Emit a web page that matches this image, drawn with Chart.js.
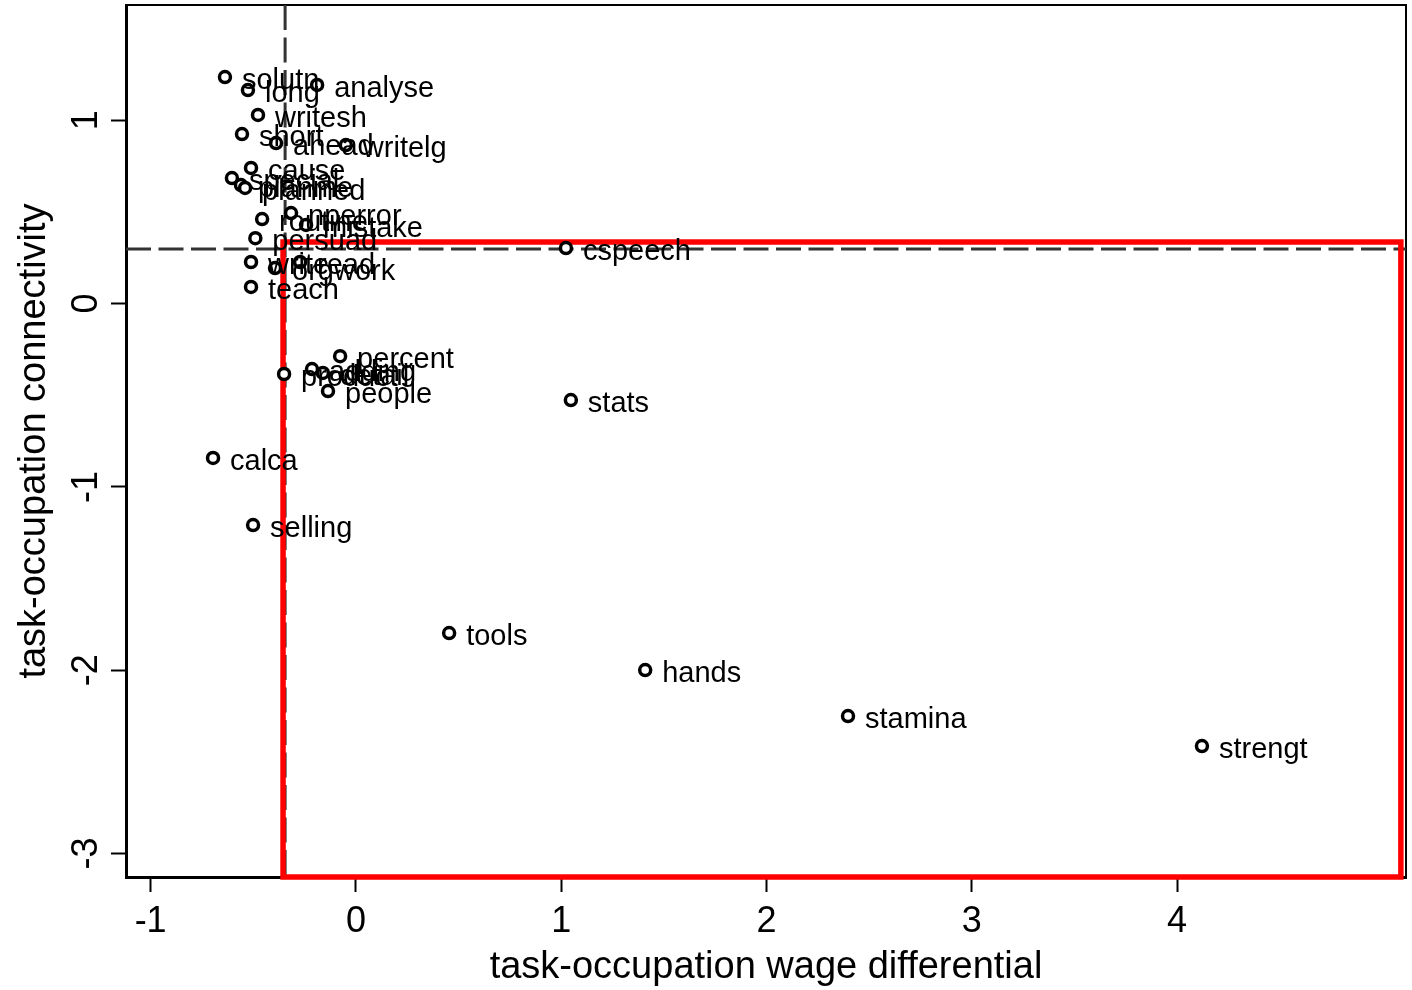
<!DOCTYPE html>
<html>
<head>
<meta charset="utf-8">
<script src="https://cdn.jsdelivr.net/npm/chart.js@4.4.1/dist/chart.umd.min.js"></script>
<style>
  html, body { margin: 0; padding: 0; background: #fff; }
  canvas { display: block; }
</style>
</head>
<body>
<canvas id="chart" width="1412" height="990"></canvas>
<script>
// Task names with their wage differential (x) and connectivity (y)
const tasks = [
  'solutn', 'long', 'analyse', 'writesh', 'short', 'ahead', 'writelg',
  'cause', 'special', 'planme', 'planned', 'nperror', 'routine', 'mistake',
  'persuad', 'write', 'orgwork', 'read', 'teach', 'cspeech',
  'percent', 'product', 'adding', 'detail', 'people', 'stats',
  'calca', 'selling', 'tools', 'hands', 'stamina', 'strengt'
];
const wageDiff = [
  -0.638, -0.526, -0.189, -0.477, -0.555, -0.389, -0.049,
  -0.511, -0.604, -0.560, -0.540, -0.316, -0.457, -0.243,
  -0.490, -0.511, -0.394, -0.272, -0.511, 1.023,
  -0.077, -0.350, -0.214, -0.161, -0.136, 1.047,
  -0.696, -0.501, 0.454, 1.409, 2.397, 4.121
];
const connectivity = [
  1.236, 1.165, 1.193, 1.029, 0.925, 0.876, 0.865,
  0.740, 0.685, 0.647, 0.631, 0.494, 0.461, 0.429,
  0.357, 0.227, 0.194, 0.227, 0.091, 0.303,
  -0.287, -0.384, -0.357, -0.378, -0.477, -0.526,
  -0.842, -1.208, -1.797, -1.999, -2.250, -2.414
];

// Axis ticks and ranges
const xTicks = [-1, 0, 1, 2, 3, 4];
const yTicks = [-3, -2, -1, 0, 1];
const xRange = [-1.12, 5.115];
const yRange = [-3.128, 1.629];

// Reference cut-offs (dashed) and highlighted quadrant (red box)
const cutX = -0.345;
const cutY = 0.298;
const boxX = [-0.355, 5.09];
const boxY = [-3.128, 0.336];

const FONT = '"Liberation Sans", Arial, Helvetica, sans-serif';

const points = tasks.map((t, i) => ({ x: wageDiff[i], y: connectivity[i] }));

const overlay = {
  id: 'overlay',
  beforeDatasetsDraw(chart) {
    const { ctx, chartArea: a, scales: { x, y } } = chart;
    ctx.save();
    // top and right frame
    ctx.strokeStyle = '#000';
    ctx.lineWidth = 2;
    ctx.beginPath();
    ctx.moveTo(a.left, a.top);
    ctx.lineTo(a.right, a.top);
    ctx.lineTo(a.right, a.bottom);
    ctx.stroke();
    // dashed cut-off lines
    ctx.strokeStyle = '#333333';
    ctx.lineWidth = 3;
    ctx.setLineDash([25, 7.5]);
    const px = x.getPixelForValue(cutX);
    const py = y.getPixelForValue(cutY);
    ctx.beginPath();
    ctx.moveTo(px, a.top);
    ctx.lineTo(px, a.bottom);
    ctx.stroke();
    ctx.beginPath();
    ctx.moveTo(a.left, py);
    ctx.lineTo(a.right, py);
    ctx.stroke();
    ctx.setLineDash([]);
    // red box
    ctx.strokeStyle = '#ff0000';
    ctx.lineWidth = 5.5;
    const l = x.getPixelForValue(boxX[0]);
    const r = x.getPixelForValue(boxX[1]);
    const t = y.getPixelForValue(boxY[1]);
    const b = y.getPixelForValue(boxY[0]);
    ctx.strokeRect(l, t, r - l, b - t);
    ctx.restore();
  },
  afterDatasetsDraw(chart) {
    const { ctx, scales: { x, y } } = chart;
    ctx.save();
    ctx.fillStyle = '#000';
    ctx.font = '29px ' + FONT;
    ctx.textAlign = 'left';
    ctx.textBaseline = 'alphabetic';
    tasks.forEach((t, i) => {
      const px = x.getPixelForValue(wageDiff[i]);
      const py = y.getPixelForValue(connectivity[i]);
      ctx.fillText(t, px + 17, py + 12);
    });
    ctx.restore();
  },
  afterDraw(chart) {
    const { ctx, scales: { y } } = chart;
    ctx.save();
    ctx.fillStyle = '#000';
    ctx.font = '36px ' + FONT;
    ctx.textAlign = 'center';
    ctx.textBaseline = 'alphabetic';
    yTicks.forEach(v => {
      const py = y.getPixelForValue(v);
      ctx.save();
      ctx.translate(97, py);
      ctx.rotate(-Math.PI / 2);
      ctx.fillText(String(v), 0, 0);
      ctx.restore();
    });
    ctx.restore();
  }
};

new Chart(document.getElementById('chart'), {
  type: 'scatter',
  data: {
    datasets: [{
      data: points,
      pointRadius: 5.5,
      pointHoverRadius: 5.5,
      pointBorderWidth: 3.5,
      pointBorderColor: '#000',
      pointBackgroundColor: '#fff',
      showLine: false
    }]
  },
  options: {
    responsive: false,
    animation: false,
    devicePixelRatio: 1,
    layout: { autoPadding: false, padding: { top: 5, right: 6, left: 0, bottom: 0 } },
    plugins: { legend: { display: false }, tooltip: { enabled: false } },
    events: [],
    scales: {
      x: {
        type: 'linear',
        min: xRange[0],
        max: xRange[1],
        afterFit(scale) { scale.height = 113; },
        afterBuildTicks(scale) { scale.ticks = xTicks.map(v => ({ value: v })); },
        ticks: {
          color: '#000',
          font: { family: FONT, size: 36 },
          padding: 8,
          maxRotation: 0,
          autoSkip: false,
          callback: v => String(v)
        },
        grid: {
          drawOnChartArea: false,
          drawTicks: true,
          tickLength: 15,
          tickWidth: 2,
          tickColor: '#000'
        },
        border: { display: true, color: '#000', width: 3 },
        title: {
          display: true,
          text: 'task-occupation wage differential',
          color: '#000',
          font: { family: FONT, size: 38 },
          padding: { top: 0, bottom: 0 }
        }
      },
      y: {
        type: 'linear',
        min: yRange[0],
        max: yRange[1],
        afterFit(scale) { scale.width = 126; },
        afterBuildTicks(scale) { scale.ticks = yTicks.map(v => ({ value: v })); },
        ticks: {
          color: 'rgba(0,0,0,0)',
          font: { family: FONT, size: 2 },
          autoSkip: false
        },
        grid: {
          drawOnChartArea: false,
          drawTicks: true,
          tickLength: 15,
          tickWidth: 2,
          tickColor: '#000'
        },
        border: { display: true, color: '#000', width: 3 },
        title: {
          display: true,
          text: 'task-occupation connectivity',
          color: '#000',
          font: { family: FONT, size: 38 },
          padding: { top: 12, bottom: 0 }
        }
      }
    }
  },
  plugins: [overlay]
});
</script>
</body>
</html>
